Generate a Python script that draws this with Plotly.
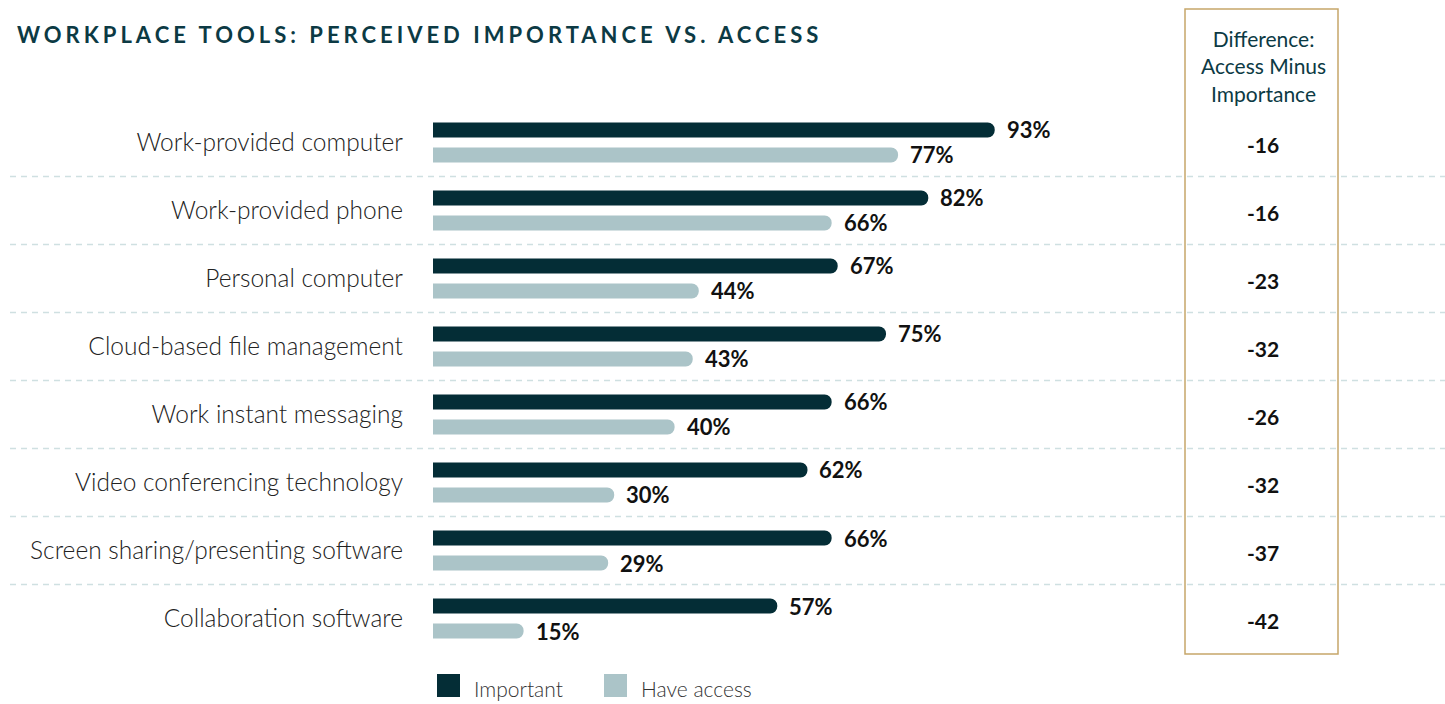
import plotly.graph_objects as go

# Survey data
categories = [
    "Work-provided computer",
    "Work-provided phone",
    "Personal computer",
    "Cloud-based file management",
    "Work instant messaging",
    "Video conferencing technology",
    "Screen sharing/presenting software",
    "Collaboration software",
]
important = [93, 82, 67, 75, 66, 62, 66, 57]
have_access = [77, 66, 44, 43, 40, 30, 29, 15]
difference = [-16, -16, -23, -32, -26, -32, -37, -42]

DARK = "#042d36"
LIGHT = "#abc4c8"
GOLD = "#c6a66a"
SEP = "#cfe0e1"
TITLE_C = "#0c3a44"

W, H = 1445, 704
PX_PER_PCT = 6.04
X0 = 433            # left edge of bar area (px)
TOP, BOTTOM = 108.5, 652.5

def px(x):
    return x / W

def py(y):
    return 1 - y / H

font_main = "Lato"

fig = go.Figure()
fig.add_trace(go.Bar(
    y=categories, x=important, orientation="h", name="Important",
    marker=dict(color=DARK, cornerradius=8, line=dict(width=0)),
    hoverinfo="x+y",
))
fig.add_trace(go.Bar(
    y=categories, x=have_access, orientation="h", name="Have access",
    marker=dict(color=LIGHT, cornerradius=8, line=dict(width=0)),
    hoverinfo="x+y",
))

annotations = []
shapes = []

# value labels at the end of each bar
for i, (a, b) in enumerate(zip(important, have_access)):
    for val, shift in ((a, 12.5), (b, -12.5)):
        annotations.append(dict(
            x=val, y=i, xref="x", yref="y", text=f"<b>{val}%</b>",
            showarrow=False, xanchor="left", yanchor="middle",
            xshift=10, yshift=shift,
            font=dict(family=font_main, size=22, color="#111111"),
        ))

# difference column values
row_h = (BOTTOM - TOP) / len(categories)
for i, d in enumerate(difference):
    yc = TOP + row_h * (i + 0.5) + 1.5
    annotations.append(dict(
        x=px(1263), y=py(yc), xref="paper", yref="paper",
        text=f"<b>{d}</b>", showarrow=False,
        xanchor="center", yanchor="middle",
        font=dict(family=font_main, size=21, color="#111111"),
    ))

# dashed row separators
for i in range(1, len(categories)):
    ys = TOP + row_h * i
    shapes.append(dict(
        type="line", xref="paper", yref="paper",
        x0=px(10), x1=1, y0=py(ys), y1=py(ys),
        line=dict(color=SEP, width=1.3, dash="6px,5px"), layer="below",
    ))

# difference column frame
shapes.append(dict(
    type="rect", xref="paper", yref="paper",
    x0=px(1185), x1=px(1338), y0=py(9), y1=py(654),
    line=dict(color=GOLD, width=1.5), fillcolor="rgba(0,0,0,0)",
))
annotations.append(dict(
    x=px(1263), y=py(66), xref="paper", yref="paper",
    text="Difference:<br>Access Minus<br>Importance", showarrow=False,
    xanchor="center", yanchor="middle", align="center",
    font=dict(family=font_main, size=21, color=TITLE_C),
))

# title
annotations.append(dict(
    x=px(15), y=py(35), xref="paper", yref="paper",
    text='<b><span style="letter-spacing:4px">WORKPLACE TOOLS: PERCEIVED IMPORTANCE VS. ACCESS</span></b>',
    showarrow=False, xanchor="left", yanchor="middle",
    font=dict(family=font_main, size=22, color=TITLE_C),
))

# legend
for (x0, label, color) in ((437, "Important", DARK), (604, "Have access", LIGHT)):
    shapes.append(dict(
        type="rect", xref="paper", yref="paper",
        x0=px(x0), x1=px(x0 + 23), y0=py(674), y1=py(697),
        line=dict(width=0), fillcolor=color,
    ))
    annotations.append(dict(
        x=px(x0 + 35), y=py(688), xref="paper", yref="paper",
        text=label, showarrow=False, xanchor="left", yanchor="middle",
        font=dict(family=font_main, size=21, color="#333333", weight=300),
    ))

fig.update_layout(
    width=W, height=H,
    margin=dict(l=0, r=0, t=0, b=0),
    paper_bgcolor="white", plot_bgcolor="white",
    barmode="group", bargap=0.265, bargroupgap=0.4,
    showlegend=False,
    xaxis=dict(
        domain=[px(X0), 1], range=[0, (W - X0) / PX_PER_PCT],
        showgrid=False, zeroline=False, showticklabels=False, showline=False,
    ),
    yaxis=dict(
        domain=[py(BOTTOM), py(TOP)], autorange="reversed",
        showgrid=False, zeroline=False, showline=False,
        ticks="", ticklabelstandoff=29,
        tickfont=dict(family=font_main, size=24.5, color="#222222", weight=300),
    ),
    annotations=annotations, shapes=shapes,
)

fig.write_html("out.html")
